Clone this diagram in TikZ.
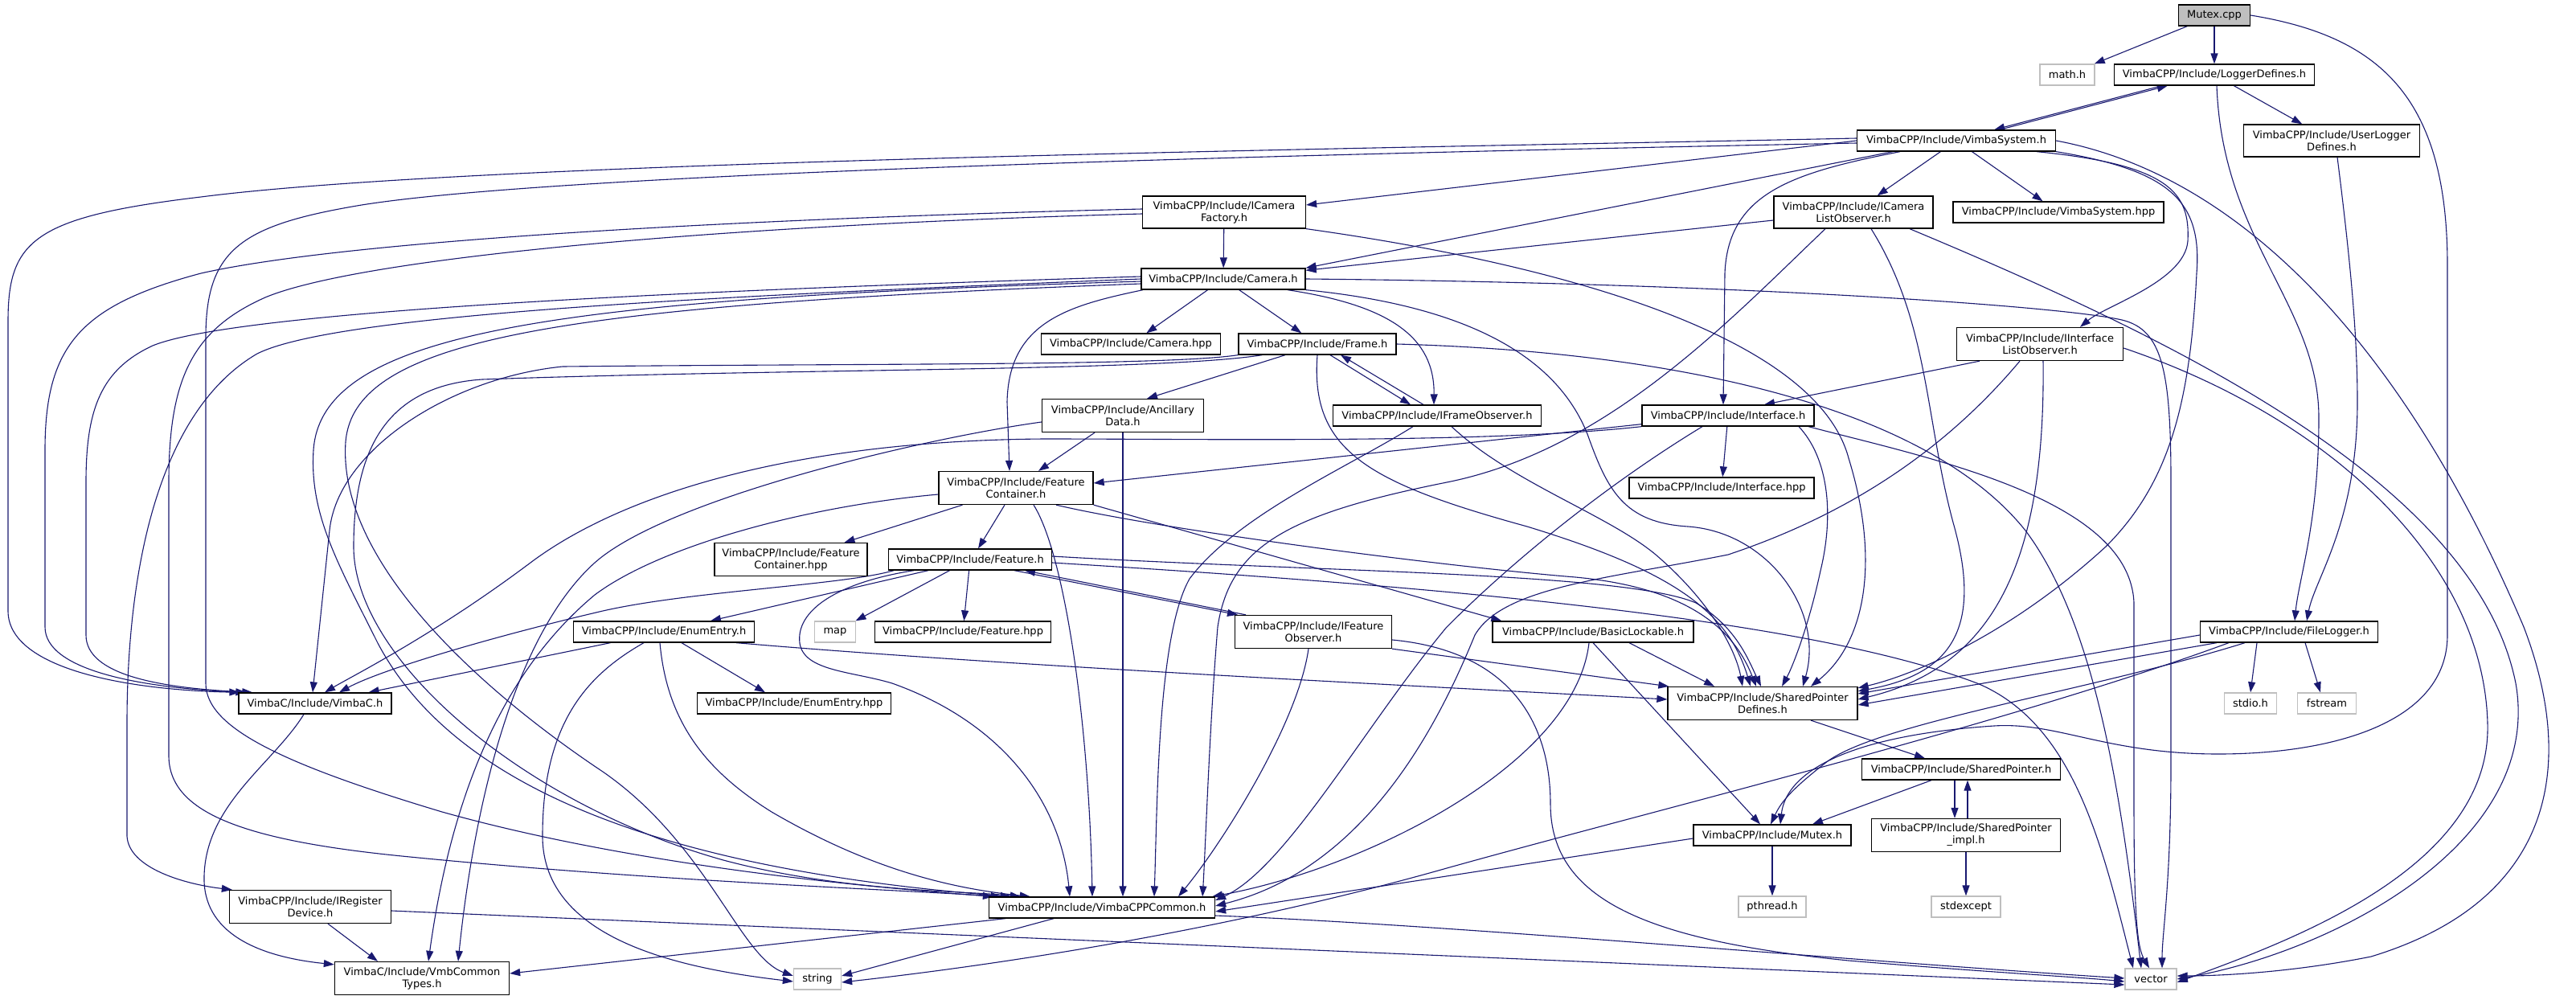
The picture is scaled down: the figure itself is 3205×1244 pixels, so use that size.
\documentclass[tikz,border=0pt]{standalone}
\usepackage{fontspec}
\newfontfamily\dv{DejaVu Sans}
\usetikzlibrary{arrows.meta,backgrounds}
\definecolor{edgec}{HTML}{191970}
\definecolor{sysgray}{HTML}{BFBFBF}
\begin{document}
\begin{tikzpicture}[x=1pt,y=-1pt,
 box/.style={draw=black, line width=1.3pt, fill=white, inner sep=0pt, align=center, font=\dv\fontsize{13}{15}\selectfont},
 sys/.style={box, draw=sysgray},
 cur/.style={box, fill=sysgray},
 inc/.style={draw=edgec, line width=1.1pt, -{Triangle[length=13pt,width=9pt]}}]
\useasboundingbox (0,0) rectangle (3205,1244);
% nodes
\node[cur, minimum width=89pt, minimum height=26pt] (mcpp) at (2755,19) {Mutex.cpp};
\node[sys, minimum width=68pt, minimum height=26pt] (math) at (2572,93) {math.h};
\node[box, minimum width=249pt, minimum height=26pt] (logdef) at (2755,93) {VimbaCPP/Include/LoggerDefines.h};
\node[box, minimum width=219pt, minimum height=40pt] (ulog) at (2901,175) {VimbaCPP/Include/UserLogger\\Defines.h};
\node[box, minimum width=247pt, minimum height=26pt] (vsys) at (2434,175) {VimbaCPP/Include/VimbaSystem.h};
\node[box, minimum width=198pt, minimum height=40pt] (iclo) at (2306,264) {VimbaCPP/Include/ICamera\\ListObserver.h};
\node[box, minimum width=262pt, minimum height=26pt] (vshpp) at (2561,264) {VimbaCPP/Include/VimbaSystem.hpp};
\node[box, minimum width=203pt, minimum height=40pt] (icf) at (1523,264) {VimbaCPP/Include/ICamera\\Factory.h};
\node[box, minimum width=204pt, minimum height=26pt] (cam) at (1522,347) {VimbaCPP/Include/Camera.h};
\node[box, minimum width=223pt, minimum height=26pt] (camhpp) at (1407,428) {VimbaCPP/Include/Camera.hpp};
\node[box, minimum width=196pt, minimum height=26pt] (frame) at (1639,428) {VimbaCPP/Include/Frame.h};
\node[box, minimum width=207pt, minimum height=41pt] (iilo) at (2538,428) {VimbaCPP/Include/IInterface\\ListObserver.h};
\node[box, minimum width=201pt, minimum height=41pt] (anc) at (1397,517) {VimbaCPP/Include/Ancillary\\Data.h};
\node[box, minimum width=259pt, minimum height=26pt] (ifo) at (1788,517) {VimbaCPP/Include/IFrameObserver.h};
\node[box, minimum width=214pt, minimum height=26pt] (intf) at (2150,517) {VimbaCPP/Include/Interface.h};
\node[box, minimum width=192pt, minimum height=41pt] (fc) at (1264,607) {VimbaCPP/Include/Feature\\Container.h};
\node[box, minimum width=230pt, minimum height=26pt] (intfhpp) at (2142,607) {VimbaCPP/Include/Interface.hpp};
\node[box, minimum width=190pt, minimum height=41pt] (fchpp) at (984,696) {VimbaCPP/Include/Feature\\Container.hpp};
\node[box, minimum width=203pt, minimum height=26pt] (feat) at (1207,696) {VimbaCPP/Include/Feature.h};
\node[box, minimum width=225pt, minimum height=26pt] (enum) at (826,786) {VimbaCPP/Include/EnumEntry.h};
\node[sys, minimum width=51pt, minimum height=26pt] (map) at (1039,786) {map};
\node[box, minimum width=219pt, minimum height=26pt] (feathpp) at (1198,786) {VimbaCPP/Include/Feature.hpp};
\node[box, minimum width=195pt, minimum height=41pt] (ifeo) at (1634,786) {VimbaCPP/Include/IFeature\\Observer.h};
\node[box, minimum width=250pt, minimum height=26pt] (blk) at (1982,786) {VimbaCPP/Include/BasicLockable.h};
\node[box, minimum width=221pt, minimum height=26pt] (flog) at (2848,786) {VimbaCPP/Include/FileLogger.h};
\node[box, minimum width=190pt, minimum height=26pt] (vimbac) at (392,875) {VimbaC/Include/VimbaC.h};
\node[box, minimum width=241pt, minimum height=26pt] (enumhpp) at (988,875) {VimbaCPP/Include/EnumEntry.hpp};
\node[box, minimum width=236pt, minimum height=41pt] (spd) at (2193,875) {VimbaCPP/Include/SharedPointer\\Defines.h};
\node[sys, minimum width=65pt, minimum height=26pt] (stdio) at (2800,875) {stdio.h};
\node[sys, minimum width=73pt, minimum height=26pt] (fstream) at (2895,875) {fstream};
\node[box, minimum width=247pt, minimum height=26pt] (sp) at (2440,957) {VimbaCPP/Include/SharedPointer.h};
\node[box, minimum width=196pt, minimum height=26pt] (mutexh) at (2205,1039) {VimbaCPP/Include/Mutex.h};
\node[box, minimum width=235pt, minimum height=41pt] (spimpl) at (2446,1039) {VimbaCPP/Include/SharedPointer\\\_impl.h};
\node[box, minimum width=201pt, minimum height=41pt] (ireg) at (386,1128) {VimbaCPP/Include/IRegister\\Device.h};
\node[box, minimum width=281pt, minimum height=26pt] (cppcommon) at (1371,1129) {VimbaCPP/Include/VimbaCPPCommon.h};
\node[sys, minimum width=84pt, minimum height=26pt] (pthread) at (2205,1128) {pthread.h};
\node[sys, minimum width=86pt, minimum height=26pt] (stdexcept) at (2446,1128) {stdexcept};
\node[sys, minimum width=64pt, minimum height=26pt] (vct) at (2676,1218) {vector};
\node[box, minimum width=217pt, minimum height=41pt] (vmbtypes) at (525,1217) {VimbaC/Include/VmbCommon\\Types.h};
\node[sys, minimum width=59pt, minimum height=26pt] (string) at (1017,1218) {string};
\begin{scope}[on background layer]
\fill[white] (0,0) rectangle (3205,1244);
% Mutex.cpp
\draw[inc] (mcpp) -- (math);
\draw[inc] (mcpp) -- (logdef);
\draw[inc] (mcpp.east) .. controls (2960,45) and (3045,120) .. (3045,330) -- (3045,790) .. controls (3045,900) and (2900,938) .. (2760,938) .. controls (2620,938) and (2560,898) .. (2481,903) .. controls (2300,915) and (2222,960) .. ([xshift=10]mutexh.north);
% LoggerDefines
\draw[inc] ([xshift=60]logdef.south west) -- ([xshift=-77]vsys.north east);
\draw[inc] ([xshift=-70]vsys.north east) -- ([xshift=67]logdef.south west);
\draw[inc] (logdef) -- (ulog);
\draw[inc] ([xshift=3]logdef.south) .. controls (2765,300) and (2885,380) .. (2885,520) .. controls (2885,650) and (2860,720) .. ([xshift=7]flog.north);
\draw[inc] ([xshift=7]ulog.south) .. controls (2925,330) and (2933,420) .. (2933,500) .. controls (2933,650) and (2880,720) .. ([xshift=22]flog.north);
% VimbaSystem
\draw[inc] (vsys.west) -- ([yshift=9]icf.east);
\draw[inc] (vsys) -- (iclo);
\draw[inc] (vsys) -- (vshpp);
\draw[inc] ([xshift=45]vsys.south west) -- (cam.north east);
\draw[inc] ([xshift=-70]vsys.south) .. controls (2230,215) and (2150,240) .. (2146,340) -- ([xshift=-6]intf.north);
\draw[inc] ([xshift=100]vsys.south) .. controls (2700,205) and (2725,240) .. (2722,300) .. controls (2718,350) and (2620,380) .. ([xshift=50]iilo.north);
\draw[inc] (vsys.south east) .. controls (2700,212) and (2740,250) .. (2733,340) .. controls (2725,500) and (2700,600) .. (2620,680) .. controls (2500,790) and (2380,840) .. ([yshift=-2]spd.north east);
\draw[inc] (vsys.east) .. controls (2800,220) and (3000,450) .. (3140,780) .. controls (3205,950) and (3180,1120) .. (2950,1190) .. controls (2850,1210) and (2760,1214) .. ([yshift=4]vct.east);
\draw[inc] ([yshift=3]vsys.west) .. controls (1700,185) and (600,200) .. (250,245) .. controls (40,270) and (10,300) .. (10,400) -- (10,760) .. controls (10,830) and (150,858) .. ([xshift=2]vimbac.north west);
\draw[inc] ([yshift=-3]vsys.west) .. controls (1600,192) and (700,215) .. (450,255) .. controls (300,280) and (256,310) .. (256,420) -- (256,850) .. controls (256,905) and (350,950) .. (550,1010) .. controls (800,1080) and (1100,1105) .. ([xshift=6]cppcommon.north west);
% ICameraFactory
\draw[inc] (icf) -- (cam);
\draw[inc] ([yshift=4]icf.west) .. controls (1000,270) and (450,295) .. (250,340) .. controls (100,380) and (56,430) .. (56,560) -- (56,780) .. controls (56,835) and (180,856) .. ([xshift=10]vimbac.north west);
\draw[inc] ([yshift=-2]icf.west) .. controls (900,280) and (450,320) .. (330,370) .. controls (240,410) and (210,470) .. (210,600) -- (210,940) .. controls (210,1010) and (300,1045) .. (500,1065) .. controls (800,1095) and (1080,1105) .. ([xshift=16]cppcommon.north west);
\draw[inc] (icf.south east) .. controls (1950,330) and (2260,420) .. (2300,570) .. controls (2340,700) and (2320,800) .. ([xshift=60]spd.north);
% Camera
\draw[inc] (cam) -- (camhpp);
\draw[inc] (cam) -- (frame);
\draw[inc] ([xshift=80]cam.south) .. controls (1730,380) and (1785,420) .. ([xshift=-4]ifo.north);
\draw[inc] (cam.south east) .. controls (1820,380) and (1935,440) .. (1975,540) .. controls (2000,610) and (2020,650) .. (2100,655) .. controls (2200,662) and (2270,760) .. ([xshift=50]spd.north);
\draw[inc] ([xshift=-100]cam.south) .. controls (1330,380) and (1255,400) .. (1253,500) -- ([xshift=-8]fc.north);
\draw[inc] (cam.east) .. controls (2150,352) and (2560,380) .. (2640,398) .. controls (2690,410) and (2701,460) .. (2701,600) -- (2701,950) .. controls (2701,1100) and (2690,1160) .. ([xshift=14]vct.north);
\draw[inc] ([yshift=3]cam.west) .. controls (900,360) and (300,385) .. (190,430) .. controls (125,460) and (107,510) .. (107,600) -- (107,790) .. controls (107,840) and (200,856) .. ([xshift=18]vimbac.north west);
\draw[inc] (cam.west) .. controls (900,368) and (420,390) .. (320,440) .. controls (200,510) and (158,700) .. (158,900) -- (158,1040) .. controls (160,1080) and (230,1100) .. ([xshift=4]ireg.north west);
\draw[inc] ([yshift=-3]cam.west) .. controls (700,372) and (400,410) .. (390,560) .. controls (385,640) and (420,700) .. (470,800) .. controls (560,970) and (800,1080) .. ([xshift=28]cppcommon.north west);
\draw[inc] ([yshift=-6]cam.west) .. controls (700,380) and (440,420) .. (430,550) .. controls (420,700) and (600,860) .. (750,960) .. controls (880,1050) and (920,1190) .. ([yshift=4]string.west);
% Frame
\draw[inc] ([xshift=-40]frame.south) -- ([xshift=30]anc.north);
\draw[inc] ([xshift=16]frame.south) -- ([xshift=-33]ifo.north);
\draw[inc] ([xshift=-17]ifo.north) -- ([xshift=29]frame.south);
\draw[inc] (frame.east) .. controls (2100,438) and (2400,510) .. (2520,660) .. controls (2610,780) and (2640,1000) .. ([xshift=-12]vct.north);
\draw[inc] (frame.south) .. controls (1630,560) and (1700,600) .. (1900,655) .. controls (2080,710) and (2150,760) .. ([xshift=-15]spd.north);
\draw[inc] (frame.south west) .. controls (1450,455) and (1100,452) .. (700,456) .. controls (560,470) and (420,560) .. (410,660) -- ([xshift=-3]vimbac.north);
\draw[inc] ([xshift=30]frame.south west) .. controls (1440,462) and (1000,458) .. (600,472) .. controls (480,480) and (440,560) .. (440,680) .. controls (440,820) and (650,1000) .. (900,1070) .. controls (1050,1110) and (1200,1108) .. ([xshift=40]cppcommon.north west);
% IFrameObserver
\draw[inc] ([xshift=-30]ifo.south) .. controls (1680,580) and (1540,640) .. (1480,720) .. controls (1440,790) and (1440,1000) .. ([xshift=65]cppcommon.north);
\draw[inc] ([xshift=18]ifo.south) .. controls (1880,600) and (2000,640) .. (2060,690) .. controls (2130,750) and (2160,810) .. ([xshift=-25]spd.north);
% AncillaryData
\draw[inc] ([xshift=-35]anc.south) -- ([xshift=28]fc.north);
\draw[inc] (anc.south) -- ([xshift=26]cppcommon.north);
\draw[inc] ([yshift=-8]anc.west) .. controls (1150,545) and (830,620) .. (740,700) .. controls (640,790) and (590,1000) .. ([xshift=45]vmbtypes.north);
% FeatureContainer
\draw[inc] (fc) -- (fchpp);
\draw[inc] ([xshift=-14]fc.south) -- ([xshift=10]feat.north);
\draw[inc] (fc.south east) -- ([xshift=12]blk.north west);
\draw[inc] ([xshift=50]fc.south) .. controls (1450,660) and (1800,705) .. (1960,718) .. controls (2110,732) and (2160,790) .. ([xshift=-8]spd.north);
\draw[inc] ([xshift=22]fc.south) .. controls (1325,690) and (1355,900) .. ([xshift=-12]cppcommon.north);
\draw[inc] ([yshift=-8]fc.west) .. controls (1000,630) and (820,680) .. (740,740) .. controls (620,840) and (560,1000) .. ([xshift=8]vmbtypes.north);
% Feature
\draw[inc] ([xshift=-52]feat.south) -- ([xshift=58]enum.north);
\draw[inc] (feat) -- (map);
\draw[inc] (feat) -- (feathpp);
\draw[inc] ([xshift=55]feat.south) -- ([xshift=-94]ifeo.north);
\draw[inc] ([xshift=-84]ifeo.north) -- ([xshift=68]feat.south);
\draw[inc] ([xshift=-95]feat.south) .. controls (1050,728) and (860,735) .. (750,760) .. controls (600,795) and (470,835) .. ([xshift=30]vimbac.north);
\draw[inc] ([xshift=-70]feat.south) .. controls (1040,725) and (990,760) .. (995,800) .. controls (1000,835) and (1060,835) .. (1110,850) .. controls (1250,900) and (1320,1000) .. ([xshift=-40]cppcommon.north);
\draw[inc] ([yshift=4]feat.east) .. controls (1650,712) and (2020,712) .. (2110,750) .. controls (2160,780) and (2175,820) .. ([xshift=-2]spd.north);
\draw[inc] ([yshift=-4]feat.east) .. controls (1800,730) and (2250,770) .. (2460,850) .. controls (2580,900) and (2615,1050) .. ([xshift=-22]vct.north);
% IFeatureObserver
\draw[inc] (ifeo.south east) -- ([xshift=2]spd.north west);
\draw[inc] ([xshift=-6]ifeo.south) .. controls (1615,900) and (1520,1050) .. ([xshift=95]cppcommon.north);
\draw[inc] ([yshift=-10]ifeo.east) .. controls (1880,810) and (1929,900) .. (1929,1000) .. controls (1929,1120) and (2050,1170) .. (2300,1195) .. controls (2480,1210) and (2580,1215) .. ([yshift=-3]vct.west);
% EnumEntry
\draw[inc] (enum) -- (vimbac);
\draw[inc] ([xshift=22]enum.south) -- ([xshift=-36]enumhpp.north);
\draw[inc] ([xshift=90]enum.south) .. controls (1250,828) and (1700,850) .. ([yshift=5]spd.west);
\draw[inc] ([xshift=-5]enum.south) .. controls (830,900) and (880,960) .. (960,1010) .. controls (1080,1080) and (1180,1105) .. ([xshift=52]cppcommon.north west);
\draw[inc] ([xshift=-25]enum.south) .. controls (730,840) and (675,900) .. (675,1040) .. controls (675,1170) and (850,1205) .. ([yshift=-3]string.west);
% BasicLockable
\draw[inc] ([xshift=45]blk.south) -- ([xshift=-60]spd.north);
\draw[inc] (blk.south) -- ([xshift=-15]mutexh.north);
\draw[inc] ([xshift=-5]blk.south) .. controls (1960,950) and (1700,1080) .. ([xshift=-4]cppcommon.north east);
% FileLogger
\draw[inc] ([xshift=-40]flog.south) -- (stdio.north);
\draw[inc] ([xshift=20]flog.south) -- ([xshift=-8]fstream.north);
\draw[inc] ([yshift=-4]flog.west) -- ([yshift=12]spd.east);
\draw[inc] ([xshift=-90]flog.south) -- ([yshift=-2]spd.east);
\draw[inc] ([xshift=-55]flog.south) .. controls (2600,860) and (2330,900) .. (2270,950) .. controls (2225,985) and (2215,1000) .. ([xshift=-2]mutexh.north);
\draw[inc] ([xshift=-75]flog.south) .. controls (2500,900) and (2050,1010) .. (1800,1080) .. controls (1500,1165) and (1200,1205) .. ([yshift=-4]string.east);
% ICameraListObserver
\draw[inc] ([yshift=-10]iclo.west) -- ([yshift=-3]cam.north east);
\draw[inc] ([xshift=22]iclo.south) .. controls (2400,400) and (2395,520) .. (2430,650) .. controls (2470,790) and (2420,840) .. ([yshift=-6]spd.north east);
\draw[inc] ([xshift=-35]iclo.south) .. controls (2150,400) and (2000,560) .. (1800,600) .. controls (1600,640) and (1530,680) .. (1515,780) .. controls (1505,900) and (1500,1050) .. ([xshift=-16]cppcommon.north east);
\draw[inc] ([xshift=70]iclo.south) .. controls (2700,420) and (3080,600) .. (3130,850) .. controls (3165,1050) and (2900,1185) .. ([yshift=0]vct.east);
% IInterfaceListObserver
\draw[inc] ([xshift=-75]iilo.south) -- ([xshift=45]intf.north);
\draw[inc] ([xshift=4]iilo.south) .. controls (2545,700) and (2480,830) .. ([yshift=5]spd.east);
\draw[inc] ([xshift=-25]iilo.south) .. controls (2420,560) and (2300,640) .. (2150,690) .. controls (2000,720) and (1870,730) .. (1835,790) .. controls (1790,900) and (1700,1080) .. ([yshift=2]cppcommon.east);
\draw[inc] ([yshift=-5]iilo.east) .. controls (2900,520) and (3090,700) .. (3095,900) .. controls (3100,1080) and (2850,1170) .. ([yshift=-4]vct.east);
% Interface
\draw[inc] (intf) -- (intfhpp);
\draw[inc] ([yshift=3]intf.south west) -- ([yshift=6]fc.east);
\draw[inc] (intf.south west) .. controls (1850,552) and (1500,546) .. (1300,546) .. controls (1000,548) and (780,610) .. (660,700) .. controls (540,790) and (440,840) .. ([xshift=12]vimbac.north);
\draw[inc] ([xshift=-32]intf.south) .. controls (2020,590) and (1900,680) .. (1800,780) .. controls (1700,900) and (1600,1080) .. ([yshift=9]cppcommon.east);
\draw[inc] ([xshift=88]intf.south) .. controls (2275,570) and (2282,640) .. (2265,710) .. controls (2250,780) and (2230,830) .. ([xshift=24]spd.north);
\draw[inc] ([xshift=100]intf.south) .. controls (2400,570) and (2650,620) .. (2655,750) -- (2655,1000) .. controls (2655,1150) and (2660,1180) .. ([xshift=-2]vct.north);
% SharedPointer
\draw[inc] ([xshift=60]spd.south) -- ([xshift=-45]sp.north);
\draw[inc] ([xshift=-37]sp.south) -- ([xshift=50]mutexh.north);
\draw[inc] ([xshift=-8]sp.south) -- ([xshift=-14]spimpl.north);
\draw[inc] ([xshift=2]spimpl.north) -- ([xshift=8]sp.south);
\draw[inc] (spimpl) -- (stdexcept);
\draw[inc] (mutexh) -- (pthread);
\draw[inc] ([yshift=-4]mutexh.west) -- ([yshift=-5]cppcommon.east);
% Common
\draw[inc] ([xshift=-120]cppcommon.south) -- ([yshift=6]vmbtypes.east);
\draw[inc] ([xshift=-60]cppcommon.south) -- ([yshift=4]string.east);
\draw[inc] ([yshift=-10]cppcommon.east) .. controls (1800,1150) and (2300,1195) .. ([yshift=1]vct.west);
\draw[inc] ([xshift=-14]vimbac.south) .. controls (340,950) and (256,1000) .. (254,1090) .. controls (252,1160) and (320,1190) .. ([yshift=-4]vmbtypes.north west);
\draw[inc] ([xshift=22]ireg.south) -- ([xshift=-55]vmbtypes.north);
\draw[inc] ([yshift=-5]ireg.east) -- ([yshift=-7]vct.west);
\end{scope}
\end{tikzpicture}
\end{document}
